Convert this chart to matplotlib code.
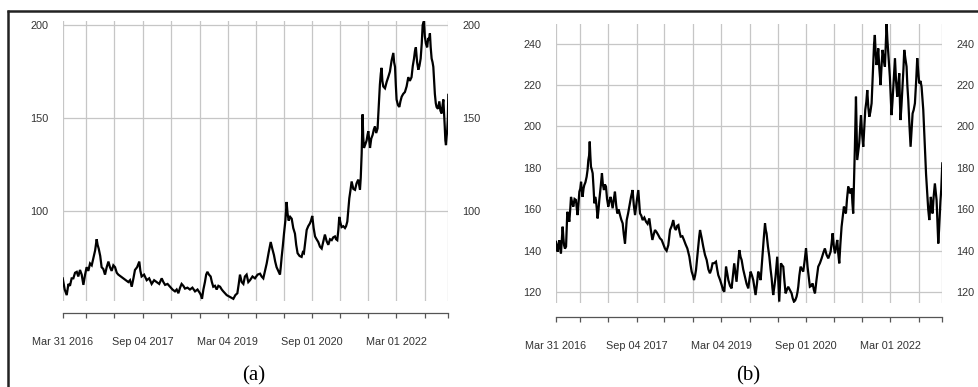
import numpy as np
import pandas as pd
import matplotlib
matplotlib.use("Agg")
import matplotlib.pyplot as plt
from matplotlib.lines import Line2D

plt.rcParams["font.family"] = ["Liberation Sans", "DejaVu Sans"]

start = pd.Timestamp("2016-03-31")

tick_dates = ["2016-03-31", "2016-09-01", "2017-03-01", "2017-09-04", "2018-03-01",
              "2018-09-04", "2019-03-04", "2019-09-03", "2020-03-02", "2020-09-01",
              "2021-03-01", "2021-09-01", "2022-03-01", "2022-09-01", "2023-01-31"]
tick_labels = ["Mar 31 2016", "", "", "Sep 04 2017", "", "", "Mar 04 2019", "", "",
               "Sep 01 2020", "", "", "Mar 01 2022", "", ""]

# series (a): days since 2016-03-31 and closing price
days_a = [0, 13, 26, 37, 47, 58, 69, 80, 91, 101, 112, 123, 134, 145, 155, 166, 177, 188,
          199, 210, 220, 226, 233, 243, 252, 263, 274, 285, 296, 306, 317, 328, 339, 350,
          360, 376, 393, 409, 425, 436, 447, 458, 468, 482, 496, 503, 511, 527, 544, 560,
          576, 592, 609, 625, 641, 652, 663, 679, 695, 711, 727, 738, 749, 760, 770, 781,
          792, 808, 824, 840, 857, 873, 889, 895, 902, 911, 921, 929, 937, 947, 958, 966,
          975, 986, 997, 1008, 1019, 1030, 1040, 1051, 1062, 1083, 1105, 1118, 1131, 1140,
          1148, 1159, 1170, 1180, 1191, 1202, 1213, 1229, 1245, 1262, 1278, 1288, 1299,
          1310, 1321, 1334, 1347, 1357, 1368, 1376, 1385, 1396, 1407, 1412, 1418, 1425,
          1433, 1442, 1450, 1456, 1463, 1473, 1483, 1493, 1504, 1512, 1521, 1534, 1547,
          1555, 1562, 1571, 1580, 1590, 1601, 1608, 1616, 1625, 1634, 1644, 1655, 1666,
          1677, 1688, 1698, 1709, 1720, 1731, 1742, 1752, 1763, 1770, 1778, 1785, 1791,
          1798, 1806, 1817, 1828, 1835, 1843, 1850, 1856, 1863, 1871, 1882, 1893, 1903,
          1914, 1920, 1925, 1930, 1936, 1942, 1946, 1951, 1960, 1968, 1974, 1979, 1985,
          1990, 1998, 2007, 2015, 2022, 2030, 2039, 2046, 2054, 2060, 2065, 2070, 2076,
          2087, 2098, 2108, 2119, 2130, 2141, 2146, 2152, 2157, 2162, 2171, 2180, 2187,
          2195, 2205, 2216, 2227, 2238, 2248, 2259, 2267, 2275, 2281, 2287, 2295, 2303,
          2310, 2318, 2325, 2331, 2339, 2345, 2352, 2360, 2367, 2372, 2378, 2383, 2389,
          2395, 2400, 2405, 2410, 2416, 2421, 2430, 2439, 2446, 2454, 2460, 2465, 2470,
          2474, 2478, 2482, 2486, 2490, 2494, 2497]
price_a = [64, 58, 55, 61, 60, 64, 64, 67, 67.5, 65, 68.5, 66, 60.5, 66, 70, 68, 72, 71,
           75, 79, 85, 82, 80, 76, 70, 69, 66, 70, 73, 70, 68, 71, 70, 67,
           66, 65, 64, 63, 62, 63, 59.5, 64, 68.5, 70, 73, 68, 65, 66, 63, 64,
           61, 63, 62, 61, 64, 62, 60.5, 61, 59.5, 58, 57, 58, 56, 59, 61, 60,
           58.5, 59, 58, 59, 57, 58, 56, 55, 53, 58, 62, 66, 67.5, 66, 65, 62,
           59.5, 60, 58, 60, 59.5, 58, 57, 56, 55, 54, 53, 55, 56, 61,
           66, 62, 61, 65, 66, 62, 63, 65, 64, 66, 66.5, 65, 64,
           68, 72, 78, 83.5, 80, 76.5, 73, 70, 68, 66, 70, 75.5, 81,
           88, 95, 105, 99, 95, 97, 96, 91, 88, 82, 77.5, 76, 75.5,
           78, 77.5, 84, 90, 92, 93.5, 95, 97.5, 91, 86.5, 85, 83.5, 81,
           80, 84, 87.5, 84, 82, 85, 84.5, 86, 86.5, 85, 84.5, 90, 97,
           94, 91.5, 92, 91, 92, 94.5, 101, 107, 111, 116, 112, 111.5, 115,
           117, 114, 111.5, 118, 131, 152, 140, 134, 136, 138, 141, 143, 138,
           134, 139, 141, 144, 145.5, 142, 144.5, 155, 168, 174, 177, 170, 167,
           166, 169.5, 172, 175, 181, 185, 180, 177.5, 168, 160, 157, 156, 159,
           161.5, 163, 164, 167, 172, 170, 172, 178, 182, 186, 188, 180, 176,
           178, 182, 190, 200, 202, 194, 190, 188, 193, 192, 195.5, 188, 182,
           180, 177.5, 170, 163, 158, 156, 155, 159, 154, 152.5, 157, 160, 152,
           145.5, 138, 135.5, 140, 143.5, 150, 162.5]

# series (b): days since 2016-03-31 and closing price
days_b = [0, 5, 11, 16, 22, 27, 32, 38, 43, 48, 52, 58, 65, 69, 73, 80, 86, 92, 97, 105,
          112, 120, 129, 135, 140, 146, 151, 157, 162, 167, 172, 178, 183, 190, 198, 204,
          209, 214, 218, 222, 226, 232, 237, 243, 248, 253, 258, 264, 269, 275, 280, 289,
          297, 303, 310, 316, 323, 330, 338, 345, 353, 360, 366, 374, 381, 389, 396, 405,
          414, 422, 431, 438, 446, 452, 457, 466, 474, 485, 495, 503, 511, 522, 532, 538,
          543, 551, 560, 571, 582, 592, 603, 613, 623, 632, 640, 650, 661, 672, 683, 694,
          704, 715, 726, 731, 737, 748, 758, 767, 775, 783, 791, 799, 806, 817, 827, 838,
          849, 856, 862, 870, 877, 885, 892, 899, 905, 913, 920, 926, 931, 942, 952, 963,
          974, 985, 995, 1004, 1012, 1023, 1034, 1042, 1049, 1060, 1071, 1080, 1088, 1094,
          1099, 1107, 1114, 1125, 1135, 1144, 1152, 1160, 1167, 1176, 1185, 1193, 1200,
          1210, 1221, 1232, 1243, 1250, 1258, 1267, 1275, 1283, 1290, 1299, 1307, 1315,
          1323, 1329, 1335, 1343, 1351, 1356, 1361, 1370, 1379, 1387, 1394, 1399, 1404,
          1412, 1419, 1425, 1430, 1437, 1443, 1448, 1454, 1461, 1469, 1477, 1484, 1492,
          1501, 1512, 1523, 1530, 1538, 1546, 1555, 1561, 1566, 1573, 1581, 1590, 1598,
          1607, 1616, 1621, 1626, 1634, 1641, 1650, 1659, 1667, 1674, 1684, 1695, 1706,
          1717, 1728, 1738, 1749, 1760, 1768, 1775, 1782, 1788, 1796, 1803, 1811, 1818,
          1824, 1831, 1838, 1846, 1853, 1861, 1868, 1874, 1881, 1889, 1895, 1900, 1906,
          1911, 1916, 1921, 1927, 1932, 1936, 1939, 1943, 1947, 1954, 1960, 1966, 1971,
          1979, 1986, 1993, 1999, 2006, 2012, 2019, 2025, 2032, 2040, 2046, 2051, 2056,
          2061, 2066, 2072, 2078, 2083, 2090, 2098, 2105, 2111, 2119, 2126, 2132, 2137,
          2142, 2148, 2153, 2158, 2164, 2169, 2175, 2180, 2186, 2191, 2198, 2206, 2212,
          2219, 2223, 2227, 2233, 2240, 2246, 2251, 2258, 2266, 2271, 2277, 2285, 2292,
          2298, 2305, 2312, 2320, 2328, 2335, 2342, 2348, 2356, 2363, 2368, 2374, 2380,
          2385, 2392, 2400, 2406, 2413, 2418, 2423, 2428, 2434, 2441, 2449, 2455, 2460,
          2466, 2471, 2476, 2481, 2485, 2490, 2494, 2497]
price_b = [144.3, 141, 139.5, 143, 145, 141, 138.7, 146, 151.6, 146, 142.7, 141, 142, 150,
           158.8, 157, 154, 160, 166, 163, 161.3, 165, 164.5, 160, 157.2, 163, 168.5, 170,
           173.3, 169, 166, 170, 171.7, 173, 175.7, 179, 183.8, 186, 192.7, 186, 180.6,
           179, 177.4, 170, 162.9, 166, 164.5, 160, 155.6, 160, 164.5, 171, 177.4, 172,
           169.3, 172, 171, 165, 161.3, 164, 166, 163, 160.5, 165, 168.5, 162, 158, 160,
           157.2, 155, 153.2, 148, 143.5, 150, 154.8, 158, 161.3, 166, 169.3, 162, 157.2,
           164, 169.3, 163, 158, 157, 154.8, 156, 154, 153, 155.6, 150, 145.2, 148, 150,
           149, 147.6, 146, 145.2, 143, 141.1, 140, 142.7, 146, 150, 152, 154.8, 151,
           150, 152, 152.4, 149, 146.8, 147, 145.2, 143, 141.1, 139, 137.1, 133, 129.9,
           128, 125.8, 128, 130.7, 137, 142.7, 147, 150, 146, 141.9, 138, 135.5, 131,
           129.1, 131, 133.9, 134, 134.7, 131, 128.2, 126, 123.4, 121, 120.2, 127,
           132.3, 129, 125.8, 123, 121.8, 128, 133.9, 129, 125, 133, 140.3, 137, 135.5,
           131, 127.4, 124, 121.8, 126, 129.9, 128, 125.8, 122, 118.6, 124, 129.9, 128,
           125.8, 132, 138.7, 146, 153.2, 150, 148.4, 142, 137.1, 131, 126.6, 122, 118.6,
           123, 127.4, 133, 137.1, 126, 115.4, 124, 133.9, 133, 132.3, 125, 119.4, 121,
           122.6, 121, 119.4, 117, 115.4, 116, 117.8, 120, 122.6, 128, 132.3, 131, 129.9,
           135, 141.1, 137, 132.3, 127, 122.6, 123, 124.2, 121, 119.4, 126, 132.3, 134,
           136.3, 139, 141.1, 138, 136.3, 138, 139.5, 144, 148.4, 142, 138.7, 142, 145.2,
           139, 133.9, 143, 151.6, 156, 161.3, 159, 158, 165, 171, 169, 167.7, 169,
           170.1, 163, 158, 175, 190.2, 205, 214.4, 198, 183.8, 188, 191.9, 199, 205.5,
           196, 190.2, 200, 208, 212, 217.6, 209, 204.7, 207, 211.2, 222, 231.3, 240,
           244.2, 236, 229.7, 233, 237.7, 228, 220, 230, 237, 232, 228.9, 240, 249.8,
           242, 235.3, 230, 224, 214, 205.5, 212, 218.4, 226, 233, 222, 214.4, 220,
           225.7, 212, 203.1, 210, 219.2, 228, 237, 233, 228.9, 220, 212.8, 200, 190.2,
           198, 206.3, 208, 211.2, 222, 233, 226, 220.8, 222, 219.2, 214, 208, 198,
           188.6, 177, 167.7, 160, 154.8, 160, 166, 161, 158, 166, 172.5, 168, 164.5,
           153, 143.5, 150, 158, 164, 169.3, 176, 182.2]

ticks_a = [100, 150, 200]
ticks_b = [120, 140, 160, 180, 200, 220, 240]

W, H = 979, 387
fig = plt.figure(figsize=(W / 100, H / 100), dpi=100)


def panel(rect, days, price, yticks, ylim, caption, cap_x, spine_off):
    ax = fig.add_axes(rect)
    dates = start + pd.to_timedelta(days, unit="D")
    ax.plot(dates, price, color="black", lw=1.6, solid_joinstyle="miter")
    tdates = pd.to_datetime(tick_dates)
    ax.set_xlim(tdates[0], tdates[-1])
    ax.set_ylim(*ylim)
    ax.set_xticks(tdates)
    ax.set_xticklabels(tick_labels)
    ax.set_yticks(yticks)
    ax.grid(True, color="#c6c6c6", lw=0.9)
    ax.set_axisbelow(True)
    for s in ("top", "left", "right"):
        ax.spines[s].set_visible(False)
    ax.spines["bottom"].set_position(("outward", spine_off))
    ax.spines["bottom"].set_color("#555555")
    ax.spines["bottom"].set_linewidth(0.9)
    ax.tick_params(axis="x", direction="out", length=3.8, width=0.9, color="#555555",
                   pad=13.5, labelsize=7.8, labelcolor="#333333")
    ax.tick_params(axis="y", length=0, pad=10.3, labelsize=7.8, labelcolor="#333333",
                   labelleft=True, labelright=True)
    fig.text(cap_x / W, 1 - 366 / H, caption, ha="center", va="top",
             fontsize=15, family=["Liberation Serif", "DejaVu Serif"], color="black")
    return ax


panel([62.7 / W, 1 - 300.7 / H, 385.6 / W, 280 / H], days_a, price_a, ticks_a,
      (52.0, 202.3), "(a)", 254, 9.1)
panel([556 / W, 1 - 303.3 / H, 386.3 / W, 279.3 / H], days_b, price_b, ticks_b,
      (114.6, 249.5), "(b)", 748, 9.6)

# outer frame (top and left edges)
fig.add_artist(Line2D([7 / W, 1.0], [1 - 11 / H, 1 - 11 / H], transform=fig.transFigure,
                      color="#222222", lw=1.8, solid_capstyle="butt"))
fig.add_artist(Line2D([8 / W, 8 / W], [1 - 10 / H, 0.0], transform=fig.transFigure,
                      color="#222222", lw=1.8, solid_capstyle="butt"))

fig.savefig("out.png", dpi=100)
